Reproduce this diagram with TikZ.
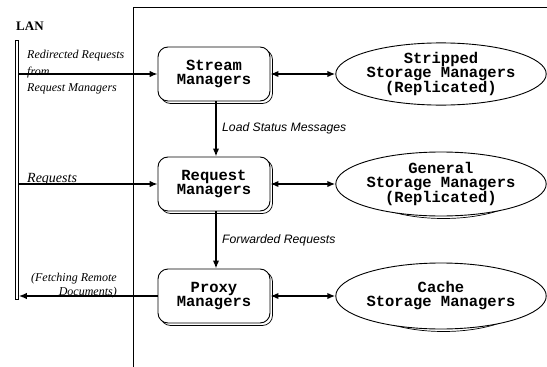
\documentclass[tikz,border=0pt]{standalone}
\usepackage{fontspec}
\setmainfont{Liberation Serif}
\newfontfamily\courf{Liberation Mono}
\newfontfamily\helvf{Liberation Sans}
\usetikzlibrary{shapes.geometric,arrows.meta}
\begin{document}
\begin{tikzpicture}[x=1pt,y=-1pt,
  boxfont/.style={font=\courf\bfseries\fontsize{15.5}{14}\selectfont},
  mgr/.style={draw, line width=0.9pt, rounded corners=10pt, minimum width=112pt, minimum height=54pt, fill=white, align=center, inner sep=0pt, boxfont},
  stor/.style={draw, ellipse, line width=0.9pt, minimum width=168pt, fill=white, align=center, inner sep=0pt, boxfont},
  shad/.style={draw, line width=0.7pt, fill=white},
  conn/.style={line width=1.8pt, -{Latex[length=8pt,width=6.5pt]}},
  dconn/.style={line width=1.8pt, {Latex[length=8pt,width=6.5pt]}-{Latex[length=8pt,width=6.5pt]}},
  lanconn/.style={line width=1.4pt, -{Latex[length=8pt,width=6.5pt]}},
  lbl/.style={font=\helvf\itshape\fontsize{12.2}{13}\selectfont, anchor=west, inner sep=0pt},
  slbl/.style={font=\itshape\fontsize{12}{16.5}\selectfont, inner sep=0pt}
]
\useasboundingbox (0,0) rectangle (547,367);
% frame
\draw[line width=0.8pt] (133,367) -- (133,7) -- (547,7);
% LAN
\node[font=\bfseries\fontsize{13}{15}\selectfont, anchor=west, inner sep=0pt] (lanlbl) at (16,26) {LAN};
\node[draw, line width=0.7pt, minimum width=3pt, minimum height=259pt, inner sep=0pt] (lan) at (17,169.5) {};
% shadows of boxes
\node[mgr, shad] (stream-s) at (216.5,76.5) {};
\node[mgr, shad] (request-s) at (216.5,186.5) {};
\node[mgr, shad] (proxy-s) at (216.5,298.5) {};
% boxes
\node[mgr] (stream) at (214,74) {Stream\\Managers};
\node[mgr] (request) at (214,184) {Request\\Managers};
\node[mgr] (proxy) at (214,296) {Proxy\\Managers};
% ellipse shadows
\node[stor, shad, minimum height=56pt] (stripped-s) at (443.5,76.5) {};
\node[stor, shad, minimum height=64pt] (general-s) at (443.5,186.5) {};
\node[stor, shad, minimum height=66pt] (cache-s) at (443.5,298.5) {};
% ellipses
\node[stor, minimum height=56pt] (stripped) at (441,74) {Stripped\\Storage Managers\\(Replicated)};
\node[stor, minimum height=64pt] (general) at (441,184) {General\\Storage Managers\\(Replicated)};
\node[stor, minimum height=66pt] (cache) at (441,296) {Cache\\Storage Managers};
% horizontal double arrows
\draw[dconn] (stream.east) -- (stripped.west);
\draw[dconn] (request.east) -- (general.west);
\draw[dconn] (proxy.east) -- (cache.west);
% vertical arrows
\draw[conn] ([xshift=2pt]stream.south) -- ([xshift=2pt]request.north);
\draw[conn] ([xshift=2pt]request.south) -- ([xshift=2pt]proxy.north);
\node[lbl] (loadlbl) at (222,128) {Load Status Messages};
\node[lbl] (fwdlbl) at (222,240) {Forwarded Requests};
% LAN arrows
\draw[lanconn] (lan.east |- stream.west) -- (stream.west);
\draw[lanconn] (lan.east |- request.west) -- (request.west);
\draw[lanconn] (proxy.west) -- (lan.east |- proxy.west);
\node[slbl, anchor=north west, align=left] (redirlbl) at (27,50) {Redirected Requests\\from\\Request Managers};
\node[font=\itshape\fontsize{14}{16}\selectfont, inner sep=0pt, anchor=base west] (reqlbl) at (27,182) {Requests};
\node[slbl, font=\itshape\fontsize{12}{14}\selectfont, anchor=base east, align=right] (fetchlbl) at (117,295) {(Fetching Remote\\Documents)};
\end{tikzpicture}
\end{document}
